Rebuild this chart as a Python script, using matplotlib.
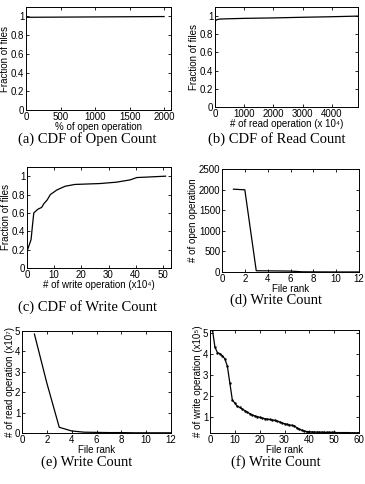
import matplotlib.pyplot as plt

plt.rcParams["font.family"] = ["Liberation Sans", "DejaVu Sans"]

# (a) CDF of open count
open_x = [0, 500, 1000, 1500, 2000]
open_cdf = [0.99, 0.992, 0.994, 0.996, 0.998]

# (b) CDF of read count (x10^4)
read_x = [0, 0, 20, 60, 150, 400, 1000, 2000, 3000, 4000, 4900]
read_cdf = [0.0, 0.93, 0.95, 0.96, 0.967, 0.97, 0.975, 0.98, 0.987, 0.993, 1.0]

# (c) CDF of write count (x10^4)
write_x = [0, 1.5, 2, 2.5, 4, 5.4, 6.2, 7.4, 8.6, 11, 14, 17.6, 27, 33, 38, 40.4, 44, 51]
write_cdf = [0.18, 0.31, 0.46, 0.6, 0.64, 0.66, 0.7, 0.74, 0.8, 0.85, 0.89, 0.91,
             0.92, 0.935, 0.96, 0.985, 0.99, 1.0]

# (d) open operations by file rank
rank_d = list(range(1, 13))
open_ops = [2010, 1995, 30, 28, 25, 22, 5, 3, 2, 1, 1, 1]

# (e) read operations by file rank (x10^7)
rank_e = list(range(1, 13))
read_ops = [4.85, 2.45, 0.28, 0.1, 0.04, 0.03, 0.02, 0.02, 0.01, 0.01, 0.01, 0.01]

# (f) write operations by file rank (x10^5)
rank_f = list(range(1, 61))
write_ops = [5.12, 4.3, 4.05, 4.0, 3.9, 3.75, 3.4, 2.6, 1.8, 1.66, 1.5, 1.45, 1.38, 1.3,
             1.22, 1.16, 1.1, 1.05, 1.02, 0.98, 0.95, 0.92, 0.9, 0.88, 0.86, 0.84, 0.8,
             0.77, 0.72, 0.68, 0.65, 0.62, 0.6, 0.58, 0.48, 0.42, 0.37, 0.33, 0.31, 0.3,
             0.29, 0.29, 0.28, 0.28, 0.28, 0.27, 0.27, 0.27, 0.27, 0.27, 0.26, 0.26,
             0.26, 0.26, 0.26, 0.26, 0.25, 0.25, 0.25, 0.25]

captions = ["(a) CDF of Open Count", "(b) CDF of Read Count", "(c) CDF of Write Count",
            "(d) Write Count", "(e) Write Count", "(f) Write Count"]

fig = plt.figure(figsize=(3.65, 4.84), dpi=100)
W, H = 365.0, 484.0


def make_ax(l, r, t, b):
    ax = fig.add_axes([l / W, 1 - b / H, (r - l) / W, (b - t) / H])
    ax.tick_params(direction="in", length=2.5, width=0.6, labelsize=7,
                   top=True, right=True, pad=1.2)
    for s in ax.spines.values():
        s.set_linewidth(0.7)
    return ax


def caption(x, y, txt):
    fig.text(x / W, 1 - y / H, txt, ha="center", va="center",
             family="Liberation Serif", fontsize=10.5)


lw = 0.9
ylab = dict(fontsize=7, labelpad=0.3)
xlab = dict(fontsize=7, labelpad=0)

ax = make_ax(26, 171, 7, 110)
ax.plot(open_x, open_cdf, color="black", lw=lw)
ax.set_xlim(0, 2100)
ax.set_ylim(0, 1.1)
ax.set_xticks([0, 500, 1000, 1500, 2000])
ax.set_yticks([0, 0.2, 0.4, 0.6, 0.8, 1])
ax.set_yticklabels(["0", "0.2", "0.4", "0.6", "0.8", "1"])
ax.set_xlabel("% of open operation", **xlab)
ax.set_ylabel("Fraction of files", **ylab)
caption(87, 139, captions[0])

ax = make_ax(215, 358, 7, 107)
ax.plot(read_x, read_cdf, color="black", lw=lw)
ax.set_xlim(0, 4900)
ax.set_ylim(0, 1.1)
ax.set_xticks([0, 1000, 2000, 3000, 4000])
ax.set_yticks([0, 0.2, 0.4, 0.6, 0.8, 1])
ax.set_yticklabels(["0", "0.2", "0.4", "0.6", "0.8", "1"])
ax.set_xlabel("# of read operation (x 10\u2074)", **xlab)
ax.set_ylabel("Fraction of files", **ylab)
caption(277, 139, captions[1])

ax = make_ax(27, 171, 167, 268)
ax.plot(write_x, write_cdf, color="black", lw=lw)
ax.set_xlim(0, 53)
ax.set_ylim(0, 1.1)
ax.set_xticks([0, 10, 20, 30, 40, 50])
ax.set_yticks([0, 0.2, 0.4, 0.6, 0.8, 1])
ax.set_yticklabels(["0", "0.2", "0.4", "0.6", "0.8", "1"])
ax.set_xlabel("# of write operation (x10\u2074)", **xlab)
ax.set_ylabel("Fraction of files", **ylab)
caption(88, 307, captions[2])

ax = make_ax(222, 359, 169, 272)
ax.plot(rank_d, open_ops, color="black", lw=lw)
ax.set_xlim(0, 12)
ax.set_ylim(0, 2500)
ax.set_xticks(range(0, 13, 2))
ax.set_yticks(range(0, 2501, 500))
ax.set_xlabel("File rank", **xlab)
ax.set_ylabel("# of open operation", **ylab)
caption(276, 300, captions[3])

ax = make_ax(22, 171, 331, 433)
ax.plot(rank_e, read_ops, color="black", lw=lw)
ax.set_xlim(0, 12)
ax.set_ylim(0, 5)
ax.set_xticks(range(0, 13, 2))
ax.set_yticks(range(0, 6))
ax.set_xlabel("File rank", **xlab)
ax.set_ylabel("# of read operation (x10\u2077)", **ylab)
caption(87, 462, captions[4])

ax = make_ax(210, 359, 330, 433)
ax.plot(rank_f, write_ops, color="black", lw=lw, marker=".", ms=1.5)
ax.set_xlim(0, 60)
ax.set_ylim(min(write_ops) - 0.01, max(write_ops))
ax.set_xticks(range(0, 61, 10))
ax.set_yticks(range(1, 6))
ax.set_xlabel("File rank", **xlab)
ax.set_ylabel("# of write operation (x10\u2075)", **ylab)
caption(276, 462, captions[5])

fig.savefig("out.png", dpi=100)
